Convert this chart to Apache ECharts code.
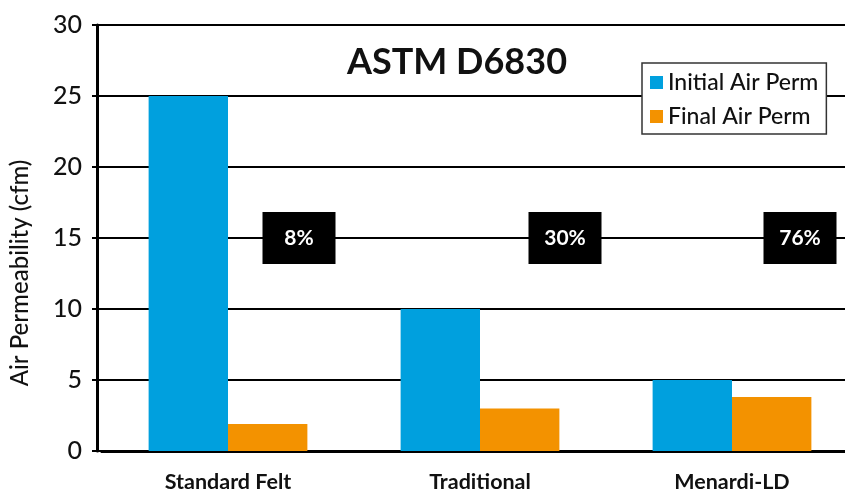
<!DOCTYPE html>
<html>
<head>
<meta charset="utf-8">
<script src="https://cdn.jsdelivr.net/npm/echarts@6/dist/echarts.min.js"></script>
<style>
  html, body { margin: 0; padding: 0; background: #fff; }
  #chart { width: 845px; height: 494px; }
</style>
</head>
<body>
<div id="chart"></div>
<script>
const categories = ['Standard Felt', 'Traditional', 'Menardi-LD'];
const initialPerm = [25, 10, 5];
const finalPerm = [1.9, 3, 3.8];
const yTicks = [0, 5, 10, 15, 20, 25, 30];

// retained percentage = final / initial
const retained = finalPerm.map((v, i) => Math.round(v / initialPerm[i] * 100) + '%');

const font = 'Lato, "Open Sans", sans-serif';
const boxShift = [71, 85, 68];
const boxLevel = 15;

const chart = echarts.init(document.getElementById('chart'));

const yBase = {
  type: 'value',
  min: yTicks[0],
  max: yTicks[yTicks.length - 1],
  interval: yTicks[1] - yTicks[0]
};

const option = {
  backgroundColor: '#fff',
  animation: false,
  textStyle: { fontFamily: font },
  title: {
    text: 'ASTM D6830',
    left: 347,
    top: 44,
    padding: 0,
    textStyle: { fontFamily: font, fontSize: 36, fontWeight: 'bold', color: '#111' }
  },
  legend: {
    data: ['Initial Air Perm', 'Final Air Perm'],
    orient: 'vertical',
    left: 642,
    top: 63,
    padding: [8, 8, 6, 8],
    itemGap: 11,
    itemWidth: 13,
    itemHeight: 13,
    backgroundColor: '#fff',
    borderColor: '#333',
    borderWidth: 1.5,
    borderRadius: 0,
    icon: 'rect',
    textStyle: { fontFamily: font, fontSize: 23, fontWeight: 500, color: '#111' }
  },
  grid: { left: 102, top: 25, bottom: 43, width: 756, containLabel: false, outerBoundsMode: 'none' },
  xAxis: [
    {
      type: 'category',
      data: categories,
      axisLine: { lineStyle: { color: '#000', width: 3 } },
      axisTick: { show: false },
      axisLabel: { fontFamily: font, fontSize: 21.5, fontWeight: 'bold', color: '#111', margin: 20 }
    },
    {
      type: 'category',
      position: 'top',
      data: categories,
      axisLine: { lineStyle: { color: '#000', width: 3 } },
      axisTick: { show: false },
      axisLabel: { show: false }
    }
  ],
  yAxis: [
    Object.assign({}, yBase, {
      offset: 5,
      name: 'Air Permeability (cfm)',
      nameLocation: 'middle',
      nameGap: 65,
      nameTextStyle: { fontFamily: font, fontSize: 24, fontWeight: 500, color: '#111', padding: [0, 70, 0, 0] },
      axisLine: { show: true, lineStyle: { color: '#000', width: 3 } },
      axisTick: { show: true, length: 5, lineStyle: { color: '#000', width: 2 } },
      axisLabel: { fontFamily: font, fontSize: 25, fontWeight: 500, color: '#111', margin: 15 },
      splitLine: { show: true, lineStyle: { color: '#000', width: 2 } }
    }),
    Object.assign({}, yBase, {
      position: 'left',
      offset: 0,
      axisLine: { show: false },
      axisTick: { show: true, length: 5, lineStyle: { color: '#000', width: 2 } },
      axisLabel: { show: false },
      splitLine: { show: false }
    })
  ],
  series: [
    {
      name: 'Initial Air Perm',
      type: 'bar',
      data: initialPerm,
      barGap: 0,
      barCategoryGap: '37%',
      itemStyle: { color: '#00A0DE' }
    },
    {
      name: 'Final Air Perm',
      type: 'bar',
      data: finalPerm,
      itemStyle: { color: '#F39200' }
    },
    {
      name: 'retained',
      type: 'scatter',
      symbolSize: 0,
      z: 5,
      itemStyle: { opacity: 1 },
      data: retained.map((t, i) => ({
        value: boxLevel,
        label: { offset: [boxShift[i], 0] }
      })),
      label: {
        show: true,
        position: 'inside',
        formatter: p => retained[p.dataIndex],
        fontFamily: font,
        fontSize: 21,
        fontWeight: 'bold',
        color: '#fff',
        backgroundColor: '#000',
        width: 73,
        align: 'center',
        lineHeight: 20,
        padding: [16, 0]
      }
    }
  ]
};

option && chart.setOption(option);
</script>
</body>
</html>
